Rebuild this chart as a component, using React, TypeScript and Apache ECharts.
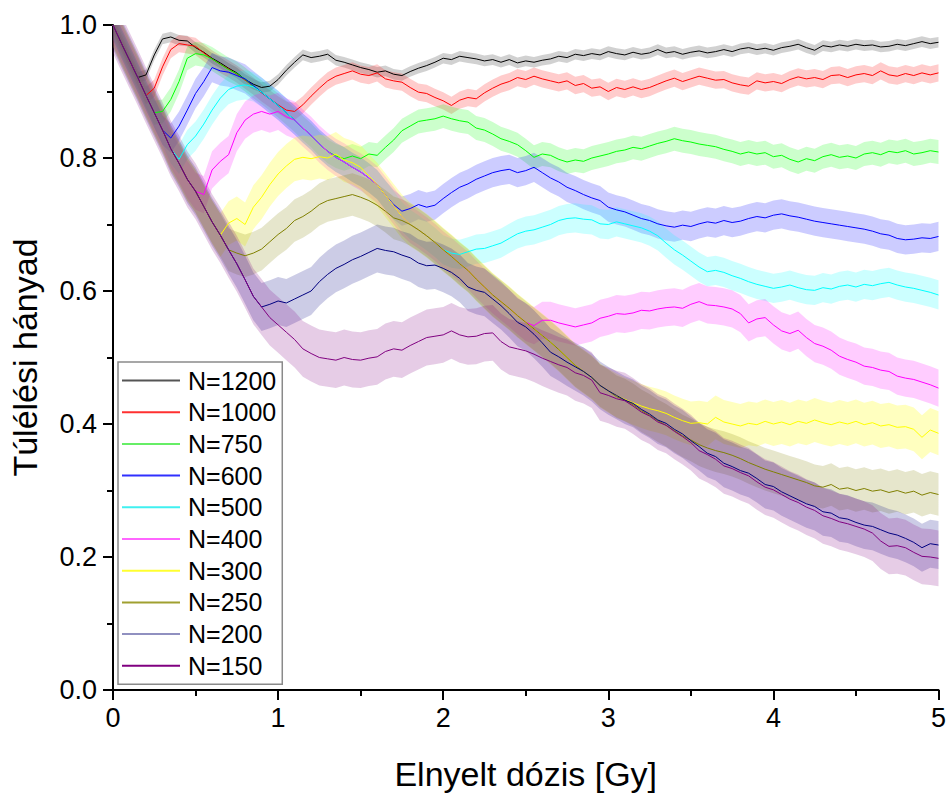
import React, { useEffect, useRef } from 'react';
import * as echarts from 'echarts';

// dose grid (Gy), step 0.05
const DOSE: number[] = Array.from({ length: 101 }, (_, i) => Math.round(i * 5) / 100);

const LABELS = ['N=1200', 'N=1000', 'N=750', 'N=600', 'N=500', 'N=400', 'N=300', 'N=250', 'N=200', 'N=150'];

const N1200 = [1.000,0.973,0.947,0.921,0.925,0.955,0.979,0.982,0.977,0.976,
 0.966,0.959,0.950,0.943,0.935,0.928,0.918,0.911,0.906,0.908,
 0.918,0.932,0.944,0.955,0.951,0.953,0.956,0.947,0.944,0.940,
 0.936,0.933,0.929,0.931,0.926,0.924,0.930,0.935,0.939,0.944,
 0.950,0.948,0.953,0.951,0.949,0.946,0.948,0.944,0.948,0.943,
 0.946,0.944,0.947,0.949,0.953,0.951,0.956,0.954,0.957,0.955,
 0.960,0.957,0.955,0.959,0.956,0.958,0.963,0.958,0.960,0.956,
 0.959,0.961,0.958,0.960,0.963,0.960,0.964,0.966,0.963,0.965,
 0.962,0.966,0.968,0.971,0.966,0.962,0.969,0.967,0.970,0.968,
 0.971,0.969,0.970,0.967,0.968,0.971,0.969,0.972,0.975,0.972,
 0.974];

const N1000 = [1.000,0.973,0.947,0.921,0.894,0.905,0.937,0.963,0.972,0.970,
 0.968,0.958,0.949,0.941,0.934,0.926,0.917,0.908,0.898,0.889,
 0.880,0.872,0.870,0.880,0.893,0.905,0.916,0.923,0.927,0.931,
 0.926,0.924,0.928,0.919,0.916,0.914,0.906,0.899,0.897,0.891,
 0.886,0.879,0.887,0.891,0.889,0.898,0.905,0.911,0.915,0.921,
 0.918,0.923,0.919,0.916,0.913,0.916,0.909,0.912,0.905,0.907,
 0.900,0.906,0.903,0.907,0.903,0.906,0.911,0.916,0.920,0.915,
 0.919,0.923,0.920,0.917,0.918,0.913,0.910,0.908,0.916,0.913,
 0.915,0.912,0.918,0.922,0.919,0.921,0.918,0.924,0.925,0.921,
 0.925,0.927,0.924,0.931,0.925,0.923,0.927,0.924,0.928,0.925,
 0.928];

const N750 = [1.000,0.973,0.947,0.921,0.894,0.868,0.870,0.888,0.915,0.950,
 0.957,0.955,0.949,0.941,0.933,0.927,0.918,0.908,0.899,0.889,
 0.879,0.868,0.857,0.845,0.834,0.821,0.810,0.803,0.799,0.803,
 0.799,0.806,0.804,0.816,0.827,0.841,0.848,0.855,0.857,0.859,
 0.863,0.859,0.856,0.854,0.845,0.842,0.836,0.829,0.825,0.820,
 0.811,0.801,0.806,0.804,0.798,0.794,0.797,0.795,0.800,0.803,
 0.806,0.810,0.812,0.816,0.814,0.818,0.822,0.825,0.829,0.826,
 0.824,0.821,0.819,0.817,0.813,0.810,0.806,0.809,0.806,0.808,
 0.802,0.804,0.798,0.794,0.799,0.796,0.802,0.805,0.801,0.803,
 0.800,0.806,0.808,0.805,0.810,0.808,0.811,0.806,0.808,0.811,
 0.809];

const N600 = [1.000,0.973,0.947,0.921,0.894,0.868,0.842,0.830,0.848,0.872,
 0.897,0.915,0.936,0.931,0.929,0.924,0.919,0.909,0.899,0.889,
 0.879,0.868,0.857,0.845,0.834,0.821,0.810,0.801,0.794,0.786,
 0.779,0.770,0.760,0.744,0.730,0.720,0.724,0.730,0.726,0.729,
 0.739,0.748,0.756,0.761,0.768,0.773,0.778,0.781,0.783,0.778,
 0.781,0.786,0.778,0.770,0.764,0.756,0.751,0.745,0.740,0.736,
 0.726,0.722,0.719,0.714,0.709,0.706,0.701,0.698,0.696,0.699,
 0.697,0.701,0.704,0.702,0.706,0.703,0.705,0.709,0.712,0.710,
 0.714,0.716,0.713,0.711,0.708,0.705,0.703,0.701,0.699,0.697,
 0.695,0.693,0.690,0.686,0.684,0.679,0.677,0.678,0.680,0.679,
 0.682];

const N500 = [1.000,0.973,0.947,0.921,0.894,0.868,0.842,0.814,0.798,0.820,
 0.833,0.851,0.872,0.890,0.903,0.908,0.910,0.907,0.899,0.889,
 0.879,0.868,0.857,0.845,0.834,0.821,0.810,0.801,0.794,0.786,
 0.779,0.770,0.760,0.744,0.728,0.712,0.700,0.692,0.683,0.673,
 0.662,0.657,0.655,0.659,0.663,0.664,0.668,0.672,0.679,0.686,
 0.690,0.692,0.696,0.700,0.706,0.709,0.710,0.708,0.707,0.701,
 0.700,0.704,0.701,0.698,0.695,0.690,0.683,0.672,0.662,0.654,
 0.645,0.636,0.629,0.631,0.628,0.623,0.619,0.614,0.610,0.607,
 0.604,0.606,0.609,0.605,0.602,0.601,0.605,0.603,0.607,0.609,
 0.606,0.610,0.608,0.611,0.613,0.609,0.606,0.604,0.601,0.598,
 0.594];

const N400 = [1.000,0.973,0.947,0.921,0.894,0.868,0.842,0.814,0.792,0.768,
 0.750,0.745,0.782,0.795,0.805,0.838,0.857,0.866,0.870,0.866,
 0.870,0.862,0.857,0.845,0.834,0.821,0.810,0.801,0.794,0.786,
 0.779,0.770,0.760,0.744,0.728,0.712,0.700,0.692,0.683,0.673,
 0.662,0.652,0.641,0.631,0.618,0.606,0.594,0.584,0.574,0.563,
 0.553,0.548,0.556,0.556,0.552,0.549,0.546,0.549,0.552,0.559,
 0.562,0.566,0.565,0.567,0.571,0.570,0.573,0.575,0.576,0.574,
 0.580,0.584,0.579,0.578,0.576,0.573,0.566,0.552,0.558,0.560,
 0.549,0.540,0.536,0.541,0.530,0.521,0.517,0.511,0.502,0.497,
 0.493,0.487,0.485,0.481,0.479,0.472,0.469,0.467,0.463,0.459,
 0.454];

const N300 = [1.000,0.973,0.947,0.921,0.894,0.868,0.842,0.814,0.792,0.768,
 0.750,0.727,0.704,0.684,0.702,0.709,0.700,0.726,0.741,0.760,
 0.776,0.788,0.798,0.801,0.799,0.802,0.800,0.806,0.797,0.793,
 0.786,0.773,0.760,0.744,0.728,0.712,0.700,0.692,0.683,0.673,
 0.662,0.652,0.641,0.631,0.618,0.606,0.594,0.584,0.574,0.563,
 0.553,0.543,0.533,0.523,0.512,0.500,0.488,0.479,0.470,0.458,
 0.450,0.443,0.437,0.432,0.427,0.423,0.420,0.416,0.410,0.405,
 0.401,0.402,0.400,0.410,0.403,0.400,0.397,0.401,0.399,0.404,
 0.400,0.403,0.399,0.404,0.401,0.406,0.402,0.399,0.403,0.400,
 0.404,0.399,0.402,0.397,0.399,0.395,0.396,0.392,0.380,0.391,
 0.386];

const N250 = [1.000,0.973,0.947,0.921,0.894,0.868,0.842,0.814,0.792,0.768,
 0.750,0.727,0.704,0.684,0.662,0.657,0.653,0.657,0.663,0.674,
 0.685,0.694,0.706,0.712,0.720,0.730,0.736,0.739,0.742,0.745,
 0.741,0.736,0.729,0.720,0.710,0.706,0.700,0.692,0.683,0.673,
 0.662,0.652,0.641,0.631,0.618,0.606,0.594,0.584,0.574,0.563,
 0.553,0.543,0.533,0.523,0.512,0.500,0.488,0.479,0.470,0.458,
 0.450,0.441,0.436,0.429,0.420,0.413,0.405,0.398,0.390,0.382,
 0.376,0.369,0.364,0.360,0.357,0.353,0.348,0.342,0.337,0.332,
 0.328,0.324,0.320,0.316,0.312,0.307,0.305,0.309,0.302,0.304,
 0.300,0.303,0.299,0.301,0.297,0.300,0.296,0.299,0.293,0.297,
 0.294];

const N200 = [1.000,0.973,0.947,0.921,0.894,0.868,0.842,0.814,0.792,0.768,
 0.750,0.727,0.704,0.684,0.662,0.641,0.617,0.592,0.576,0.580,
 0.585,0.582,0.588,0.594,0.600,0.614,0.625,0.634,0.640,0.647,
 0.652,0.658,0.664,0.661,0.659,0.654,0.650,0.642,0.638,0.639,
 0.634,0.628,0.619,0.606,0.601,0.598,0.588,0.578,0.566,0.553,
 0.546,0.535,0.522,0.508,0.501,0.493,0.486,0.479,0.470,0.458,
 0.450,0.443,0.436,0.431,0.422,0.415,0.406,0.401,0.392,0.385,
 0.375,0.366,0.356,0.351,0.341,0.336,0.330,0.326,0.318,0.309,
 0.306,0.298,0.292,0.286,0.280,0.276,0.268,0.266,0.259,0.257,
 0.252,0.248,0.246,0.241,0.236,0.233,0.228,0.222,0.214,0.220,
 0.218];

const N150 = [1.000,0.973,0.947,0.921,0.894,0.868,0.842,0.814,0.792,0.768,
 0.750,0.727,0.704,0.684,0.662,0.641,0.617,0.592,0.576,0.560,
 0.549,0.538,0.527,0.513,0.506,0.500,0.498,0.496,0.500,0.497,
 0.496,0.499,0.501,0.509,0.513,0.511,0.518,0.524,0.530,0.532,
 0.534,0.540,0.534,0.531,0.532,0.536,0.537,0.524,0.516,0.513,
 0.510,0.505,0.499,0.494,0.489,0.485,0.477,0.473,0.466,0.447,
 0.443,0.438,0.435,0.427,0.418,0.412,0.403,0.398,0.389,0.381,
 0.372,0.360,0.354,0.347,0.337,0.333,0.327,0.322,0.313,0.305,
 0.301,0.294,0.287,0.282,0.275,0.270,0.262,0.258,0.253,0.250,
 0.246,0.242,0.236,0.224,0.216,0.217,0.214,0.207,0.201,0.200,
 0.198];

const SERIES_VALUES = [N1200, N1000, N750, N600, N500, N400, N300, N250, N200, N150];
// half-width of the shaded band of each series
const BAND_HALF = [0.008, 0.013, 0.018, 0.022, 0.022, 0.028, 0.033, 0.032, 0.036, 0.042];

const LINE_COLORS = ['#000000', '#ff0000', '#00ff00', '#0000ff', '#00ffff', '#ff00ff', '#ffff00', '#808000', '#000080', '#800080'];
const LEGEND_COLORS = ['#555555', '#ff3030', '#66ee66', '#3030ff', '#40f0f0', '#ff66ff', '#ffff30', '#a0a030', '#9090c0', '#800080'];
const BAND_COLORS = [
  'rgba(0,0,0,0.18)', 'rgba(255,0,0,0.2)', 'rgba(0,255,0,0.2)', 'rgba(0,0,255,0.2)', 'rgba(0,255,255,0.2)',
  'rgba(255,0,255,0.2)', 'rgba(255,255,0,0.25)', 'rgba(128,128,0,0.2)', 'rgba(0,0,128,0.2)', 'rgba(128,0,128,0.2)',
];

const FONT = '"Liberation Sans", Arial, sans-serif';

export default function App() {
  const ref = useRef<HTMLDivElement>(null);

  useEffect(() => {
    document.body.style.margin = '0';
    const chart = echarts.init(ref.current!, null, { renderer: 'svg' });
    const series: any[] = [];
    SERIES_VALUES.forEach((vals, k) => {
      const e = BAND_HALF[k];
      series.push({
        type: 'custom',
        silent: true,
        clip: true,
        data: [[0, 0]],
        renderItem: (_params: any, api: any) => {
          const pts: number[][] = [];
          for (let i = 0; i < DOSE.length; i++) pts.push(api.coord([DOSE[i], vals[i] + e]));
          for (let i = DOSE.length - 1; i >= 0; i--) pts.push(api.coord([DOSE[i], vals[i] - e]));
          return { type: 'polygon', shape: { points: pts }, style: { fill: BAND_COLORS[k], stroke: 'none' } };
        },
      });
      series.push({
        type: 'line',
        name: LABELS[k],
        data: DOSE.map((d, i) => [d, vals[i]]),
        symbol: 'none',
        showSymbol: false,
        clip: true,
        lineStyle: { color: LINE_COLORS[k], width: 1 },
        itemStyle: { color: LINE_COLORS[k] },
      });
    });

    chart.setOption({
      animation: false,
      backgroundColor: '#ffffff',
      grid: { left: 113, right: 10, top: 25, bottom: 106, containLabel: false },
      legend: {
        data: LABELS.map((name, k) => ({ name, icon: 'rect', itemStyle: { color: LEGEND_COLORS[k] } })),
        orient: 'vertical',
        left: 118,
        top: 362,
        padding: [6, 6, 6, 4],
        itemGap: 6.7,
        itemWidth: 58,
        itemHeight: 2,
        borderColor: '#8a8a8a',
        borderWidth: 1.5,
        borderRadius: 0,
        backgroundColor: '#ffffff',
        textStyle: { fontSize: 25, fontFamily: FONT, color: '#000', padding: [0, 0, 0, 3] },
      },
      xAxis: {
        type: 'value',
        min: 0,
        max: 5,
        interval: 1,
        name: 'Elnyelt dózis [Gy]',
        nameLocation: 'middle',
        nameGap: 67,
        nameTextStyle: { fontSize: 34, fontFamily: FONT, color: '#000' },
        axisLine: { show: true, onZero: false, lineStyle: { color: '#000', width: 2 } },
        axisTick: { show: true, inside: false, length: 10, lineStyle: { color: '#000', width: 2 } },
        minorTick: { show: true, splitNumber: 2, length: 6, lineStyle: { color: '#000', width: 2 } },
        axisLabel: { fontSize: 27, fontFamily: FONT, color: '#000', margin: 14 },
        splitLine: { show: false },
      },
      yAxis: {
        type: 'value',
        min: 0,
        max: 1,
        interval: 0.2,
        name: 'Túlélési hányad',
        nameLocation: 'middle',
        nameGap: 71,
        nameTextStyle: { fontSize: 34, fontFamily: FONT, color: '#000' },
        axisLine: { show: true, onZero: false, lineStyle: { color: '#000', width: 2 } },
        axisTick: { show: true, inside: false, length: 10, lineStyle: { color: '#000', width: 2 } },
        minorTick: { show: true, splitNumber: 2, length: 6, lineStyle: { color: '#000', width: 2 } },
        axisLabel: { fontSize: 27, fontFamily: FONT, color: '#000', margin: 16, formatter: (v: number) => v.toFixed(1) },
        splitLine: { show: false },
      },
      series,
    });
    return () => chart.dispose();
  }, []);

  return <div ref={ref} style={{ width: 949, height: 796 }} />;
}
